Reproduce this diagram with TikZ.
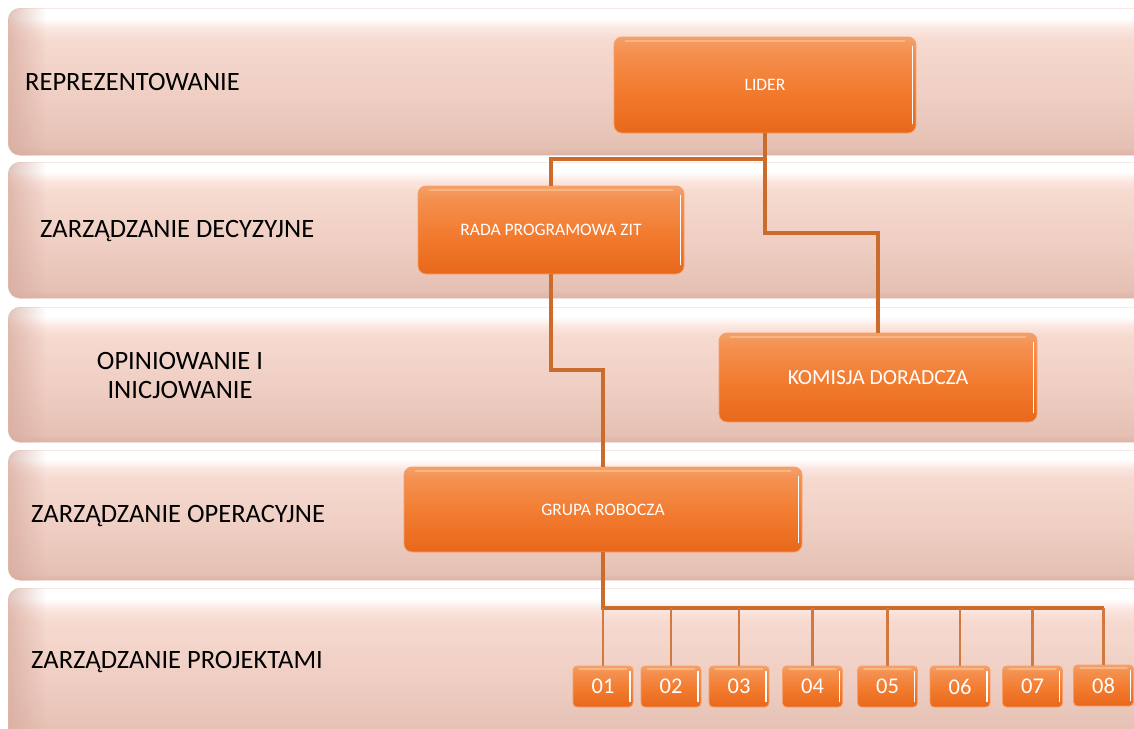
\documentclass[tikz,border=0pt]{standalone}
\usepackage{fontspec}
\setmainfont{Carlito}
\usetikzlibrary{fadings}
\definecolor{bandT}{HTML}{FBE6DF}
\definecolor{bandA}{HTML}{F6D9CF}
\definecolor{bandB}{HTML}{EFCEC3}
\definecolor{bandC}{HTML}{E5C1B4}
\definecolor{bandD}{HTML}{DDB4A7}
\definecolor{bandedge}{HTML}{D6A99C}
\definecolor{orT}{HTML}{F4904F}
\definecolor{orC}{HTML}{F27B2F}
\definecolor{orD}{HTML}{E8681B}
\definecolor{orB}{HTML}{F4A06A}
\definecolor{orHi}{HTML}{FBBB85}
\definecolor{conncol}{HTML}{CB6B2C}
% the middle 25bp..75bp of a shading is what covers the path
\pgfdeclareverticalshading{bandshade}{100bp}{color(0bp)=(bandD); color(25bp)=(bandD); color(28bp)=(bandC); color(45bp)=(bandB); color(64bp)=(bandA); color(68bp)=(bandT); color(71.5bp)=(white); color(100bp)=(white)}
\pgfdeclareverticalshading{boxshade}{100bp}{color(0bp)=(orD); color(25bp)=(orD); color(47.5bp)=(orC); color(67.5bp)=(orT); color(75bp)=(orB); color(100bp)=(orB)}
\tikzset{
  band/.style={shading=bandshade, draw=bandC!50!white, line width=0.6pt, rounded corners=12pt,
    anchor=north west, inner sep=0pt, minimum width=1160pt},
  bandlabel/.style={font=\fontsize{26.5}{29}\selectfont, text=black, inner sep=0pt},
  obox/.style={shading=boxshade, draw=orB, line width=0.8pt, rounded corners=8pt,
    text=white, inner sep=0pt},
  bigbox/.style={obox, font=\fontsize{17.5}{20}\selectfont},
  pbox/.style={obox, rounded corners=4pt, minimum width=60pt, minimum height=41pt,
    font=\fontsize{22.5}{26}\selectfont},
  hiR/.style={draw=white, line width=1.8pt, line cap=round},
  hiT/.style={draw=orHi, line width=2pt, line cap=round, opacity=0.85},
  conn/.style={draw=conncol, line width=3.2pt},
  thin/.style={draw=conncol!90!white, line width=2.2pt},
}
\begin{document}
\begin{tikzpicture}[x=1pt,y=-1pt]
\useasboundingbox (0,0) rectangle (1134,728);
\clip (0,0) rectangle (1134,728);
\fill[white] (0,0) rectangle (1134,728);
% bands
\node[band, minimum height=147pt] (b1) at (8,8) {};
\node[band, minimum height=136pt] (b2) at (8,162) {};
\node[band, minimum height=135pt] (b3) at (8,307) {};
\node[band, minimum height=130pt] (b4) at (8,450) {};
\node[band, minimum height=152pt] (b5) at (8,588) {};
\foreach \b in {b1,b2,b3,b4,b5}{
  \begin{scope}
    \clip[rounded corners=12pt] (\b.north west) rectangle (\b.south east);
    \fill[bandedge, path fading=east, opacity=0.7] (\b.north west) rectangle ([xshift=38pt]\b.south west);
  \end{scope}
}
% band labels
\node[bandlabel, anchor=west] (l1) at (25,82) {REPREZENTOWANIE};
\node[bandlabel, anchor=west] (l2) at (40,231) {ZARZĄDZANIE DECYZYJNE};
\node[bandlabel, align=center] (l3) at (180,375) {OPINIOWANIE I\\INICJOWANIE};
\node[bandlabel, anchor=west] (l4) at (31,516) {ZARZĄDZANIE OPERACYJNE};
\node[bandlabel, anchor=west] (l5) at (31,662) {ZARZĄDZANIE PROJEKTAMI};
% junction coordinates
\coordinate (j1) at (765,159);
\coordinate (j2) at (765,233);
\coordinate (j3) at (603,370);
\coordinate (bus) at (603,608);
% main boxes
\node[bigbox, minimum width=302pt, minimum height=96pt] (lider) at (765,85) {LIDER};
\node[bigbox, minimum width=266pt, minimum height=88pt] (rada) at (551,230) {RADA PROGRAMOWA ZIT};
\node[bigbox, minimum width=318pt, minimum height=89pt, font=\fontsize{21.5}{24}\selectfont] (komisja) at (878,377.5) {KOMISJA DORADCZA};
\node[bigbox, minimum width=398pt, minimum height=85pt] (grupa) at (603,509.5) {GRUPA ROBOCZA};
% project boxes
\node[pbox] (p1) at (603,686.5) {01};
\node[pbox] (p2) at (671,686.5) {02};
\node[pbox] (p3) at (739,686.5) {03};
\node[pbox] (p4) at (812.5,686.5) {04};
\node[pbox] (p5) at (887.5,686.5) {05};
\node[pbox] (p6) at (960,686.5) {06};
\node[pbox] (p7) at (1032.5,686.5) {07};
\node[pbox] (p8) at (1103.5,685.5) {08};
% highlights on boxes
\foreach \n in {lider,rada,komisja,grupa}{
  \draw[hiR] ([xshift=-4pt,yshift=-10pt]\n.north east) -- ([xshift=-4pt,yshift=10pt]\n.south east);
  \draw[hiT] ([xshift=12pt,yshift=-4pt]\n.north west) -- ([xshift=-12pt,yshift=-4pt]\n.north east);
}
\foreach \n in {p1,p2,p3,p4,p5,p6,p7,p8}{
  \draw[hiR, line width=1.5pt] ([xshift=-3.5pt,yshift=-6pt]\n.north east) -- ([xshift=-3.5pt,yshift=6pt]\n.south east);
  \draw[hiT, line width=1.5pt] ([xshift=7pt,yshift=-3.5pt]\n.north west) -- ([xshift=-7pt,yshift=-3.5pt]\n.north east);
}
% connectors
\draw[conn] (lider.south) -- (lider.south |- j1) -| (rada.north);
\draw[conn] (lider.south |- j1) -- (j2) -| (komisja.north);
\draw[conn] (rada.south) |- (j3) -- (grupa.north);
\draw[conn] (grupa.south) -- (bus) -- (p8.north |- bus);
\foreach \p in {p1,p2,p3,p4,p5,p6,p7,p8}{
  \draw[thin] (\p.north |- bus) -- (\p.north);
}
\end{tikzpicture}
\end{document}
